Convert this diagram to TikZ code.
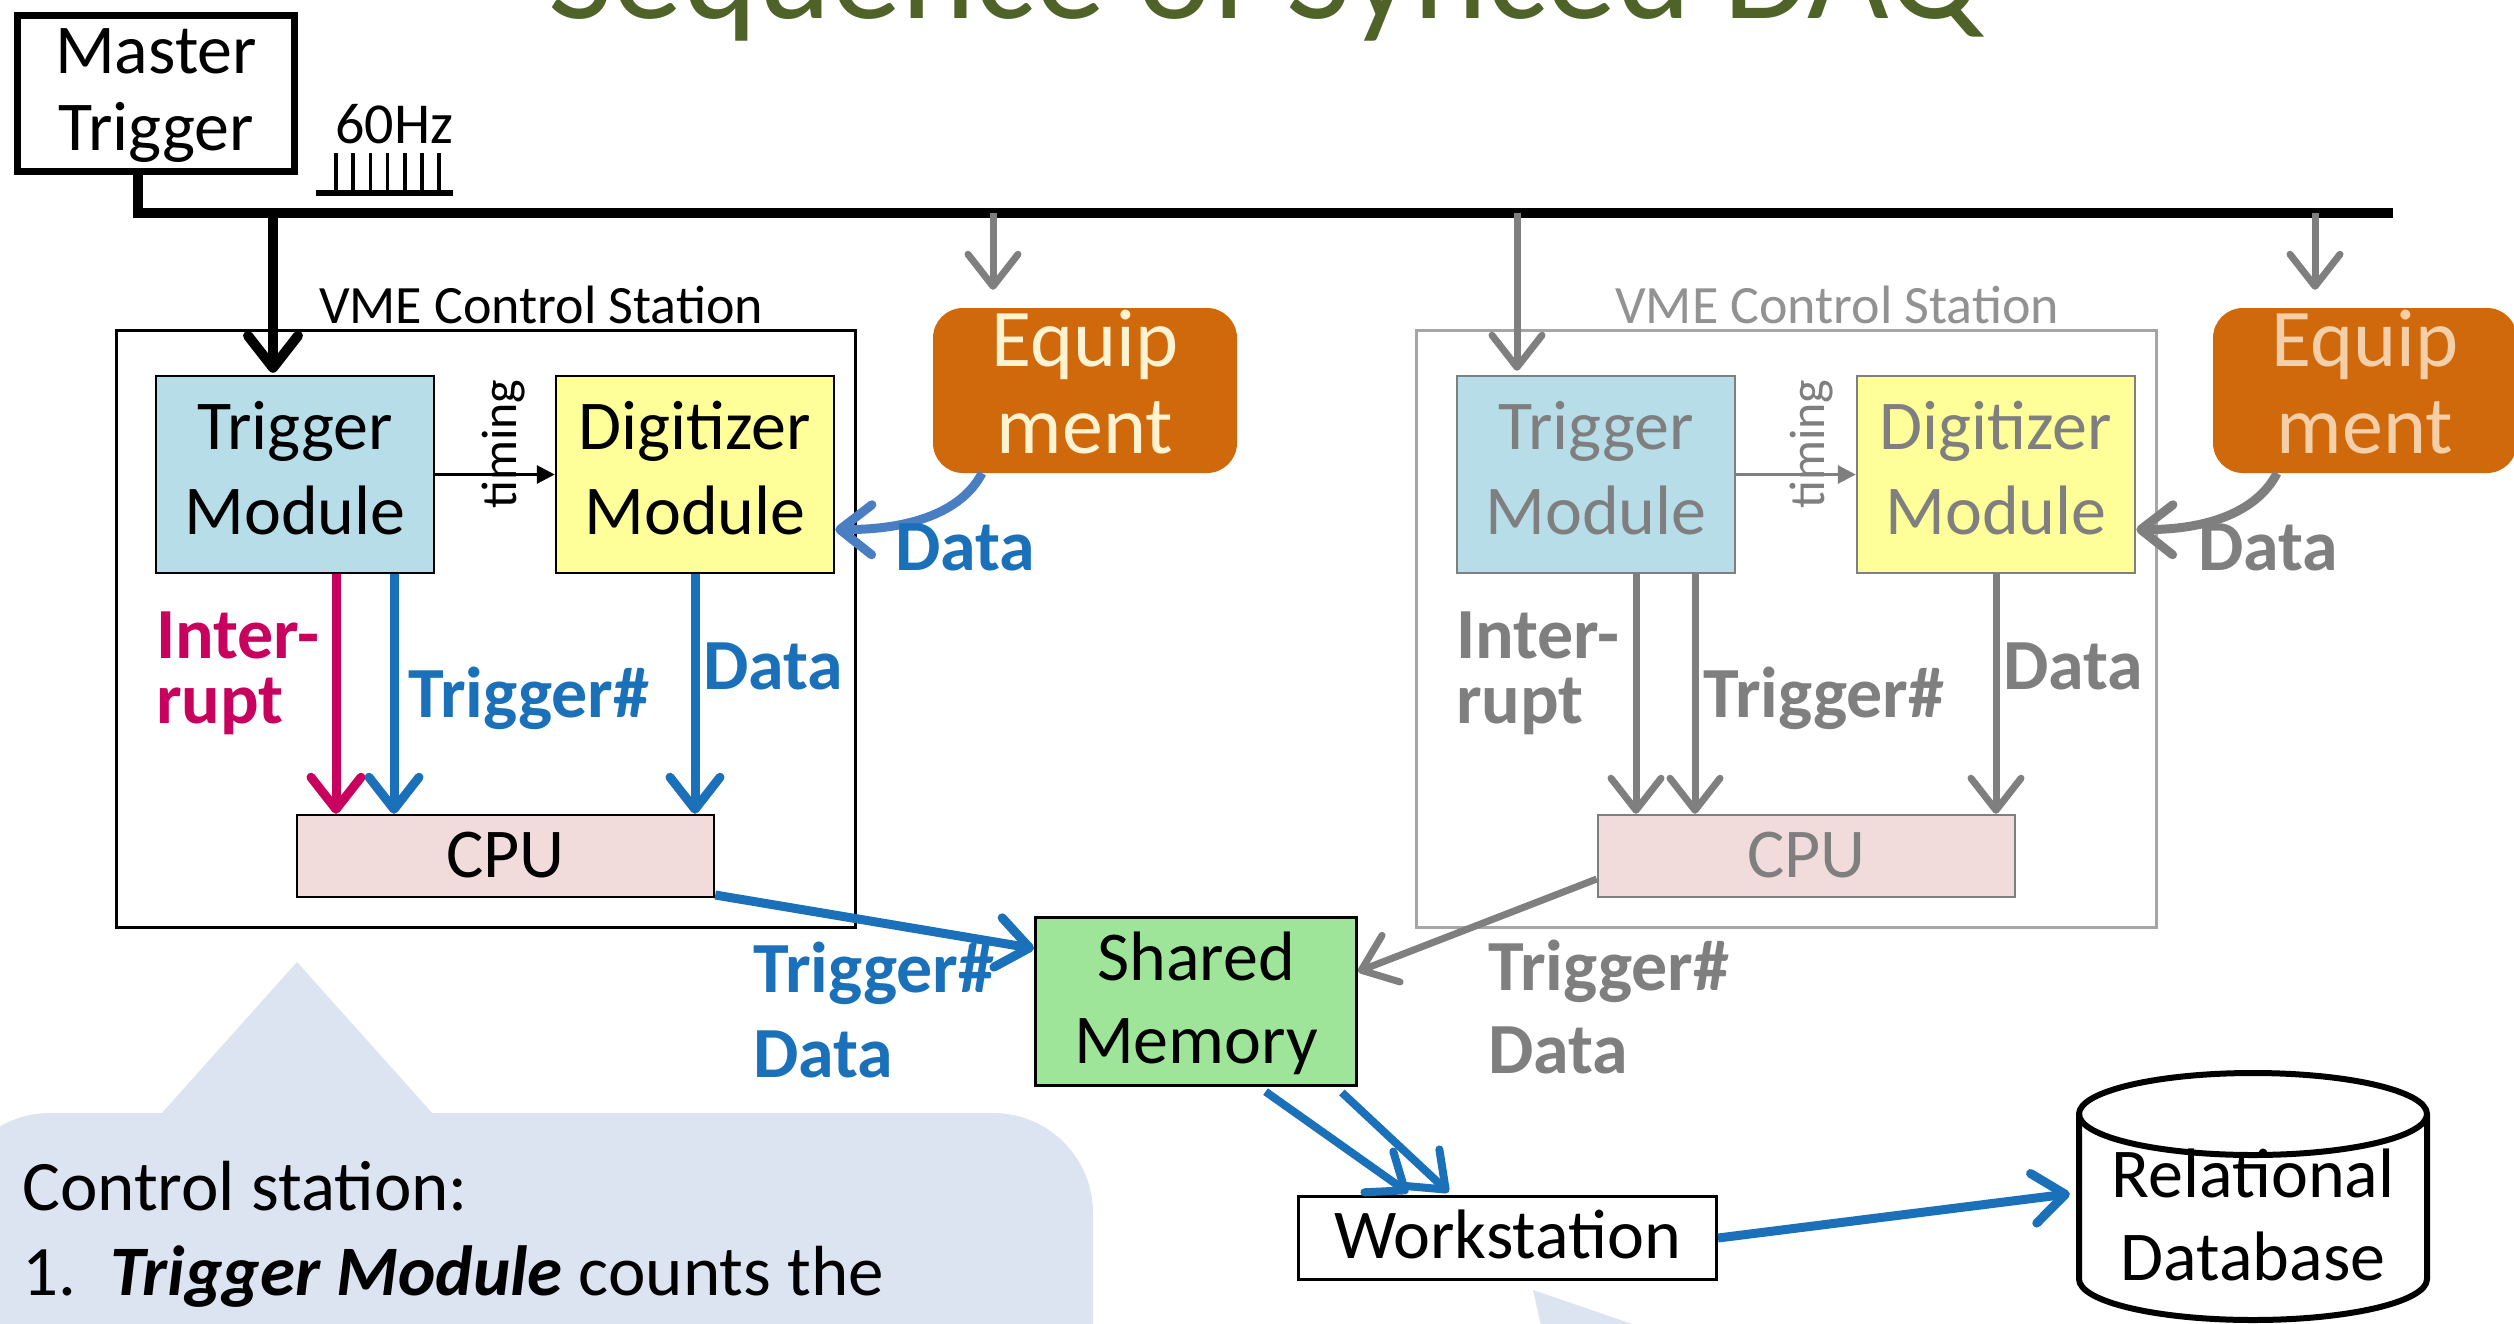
\documentclass[tikz,border=0pt]{standalone}
\usepackage{fontspec}
\setmainfont{Carlito}
\usetikzlibrary{arrows.meta,calc}

\definecolor{titlegreen}{HTML}{4F6228}
\definecolor{tmfill}{HTML}{B7DDE8}
\definecolor{dgfill}{HTML}{FFFF99}
\definecolor{cpufill}{HTML}{F2DCDB}
\definecolor{smfill}{HTML}{9EE59A}
\definecolor{eqfill}{HTML}{D0690C}
\definecolor{eqtext}{HTML}{FFF3D2}
\definecolor{eqtextdim}{HTML}{F5CFA8}
\definecolor{flowblue}{HTML}{1B70BA}
\definecolor{curveblue}{HTML}{4A7EC2}
\definecolor{irqred}{HTML}{C8005E}
\definecolor{dimgray}{HTML}{7F7F7F}
\definecolor{dimframe}{HTML}{A6A6A6}
\definecolor{callout}{HTML}{DBE4F0}

\newcommand\setfs[1]{\fontsize{#1}{#1}\selectfont}

\begin{document}
\begin{tikzpicture}[x=1pt,y=-1pt,
  lbl/.style={anchor=base, inner sep=0pt, font=\setfs{70}},
  lblw/.style={anchor=base west, inner sep=0pt, font=\setfs{70}},
  blbl/.style={anchor=base west, inner sep=0pt, font=\setfs{72}\bfseries},
  modbox/.style={draw, rectangle, line width=2.5pt, inner sep=0pt},
  eqbox/.style={rectangle, fill=eqfill, rounded corners=30pt, inner sep=0pt,
                minimum width=304pt, minimum height=165pt},
  head/.style={-{Straight Barb[length=32pt,width=50pt,round]}},
  blackflow/.style={draw=black, line width=10pt, head},
  blueflow/.style={draw=flowblue, line width=9pt, head},
  irqflow/.style={draw=irqred, line width=9pt, head},
  grayflow/.style={draw=dimgray, line width=7pt, head},
  curveflow/.style={line width=9pt, head},
  tickarrow/.style={line width=3pt, -{Triangle[length=18pt,width=18pt]}}]

\useasboundingbox (0,0) rectangle (2514,1323);
\clip (0,0) rectangle (2514,1323);
\fill[white] (0,0) rectangle (2514,1323);

% slide title (top part lies above the page)
\node[anchor=base west, inner sep=0pt, text=titlegreen, font=\setfs{141}]
  at (548,18) {Sequence of Synced DAQ};

% explanation callouts
\fill[callout, rounded corners=100pt] (-50,1113) rectangle (1093,1460);
\fill[callout] (161,1114) -- (297,962) -- (433,1114) -- cycle;
\fill[callout] (1533,1290) -- (1542,1330) -- (1650,1330) -- cycle;
\node[lblw, font=\setfs{71}] at (22,1210) {Control station:};
\node[lblw, font=\setfs{71}] at (22,1295) {1.};
\node[lblw, font=\setfs{71}] at (110,1295) {\textbf{\textit{Trigger Module}} counts the};

% master trigger and the trigger bus
\node[modbox, line width=7pt, minimum width=277pt, minimum height=156pt] (mt) at (156,93.5) {};
\node[lbl] at (156,73) {Master};
\node[lbl] at (156,150) {Trigger};
\node[lblw, font=\setfs{58}] at (335,143) {60Hz};
\draw[line width=6pt] (316,193) -- (453,193);
\foreach \i in {0,...,6} \draw[line width=3.5pt] (336+\i*17.2,153) -- (336+\i*17.2,193);

\coordinate (busL) at (138,213);
\coordinate (busR) at (2393,213);
\draw[line width=10pt, line join=miter] (mt.south -| busL) -- (busL) -- (busR);
\coordinate (tapA) at (273,213);
\coordinate (tapB) at (993,213);
\coordinate (tapC) at (1517,213);
\coordinate (tapD) at (2315,213);

% ---------- active control station ----------
\node[draw, line width=3pt, inner sep=0pt, minimum width=739pt, minimum height=597pt] (vmeL) at (486,629) {};
\node[lblw, font=\setfs{54}] at (319,323) {VME Control Station};

\node[modbox, fill=tmfill, minimum width=278pt, minimum height=197pt] (tmL) at (295,474.5) {};
\node[lbl] at (295,449) {Trigger};
\node[lbl] at (295,534) {Module};
\node[modbox, fill=dgfill, minimum width=278pt, minimum height=197pt] (dgL) at (695,474.5) {};
\node[lbl] at (695,449) {Digitizer};
\node[lbl] at (695,534) {Module};
\node[modbox, fill=cpufill, minimum width=417pt, minimum height=82pt] (cpuL) at (505.5,856) {};
\node[lbl] at (505.5,877) {CPU};

\draw[tickarrow] (tmL.east) -- (dgL.west);
\node[rotate=90, inner sep=0pt, font=\setfs{50}] at (504,444) {timing};

\coordinate (irqL) at (336,0);
\coordinate (trgL) at (394,0);
\draw[blackflow, shorten >=2pt] (tapA) -- (tapA |- tmL.north);
\draw[irqflow] (tmL.south -| irqL) -- (cpuL.north -| irqL);
\draw[blueflow] (tmL.south -| trgL) -- (cpuL.north -| trgL);
\draw[blueflow] (dgL.south) -- (dgL.south |- cpuL.north);
\node[blbl, text=irqred] at (156,658) {Inter-};
\node[blbl, text=irqred] at (156,723) {rupt};
\node[blbl, text=flowblue] at (408,717) {Trigger\#};
\node[blbl, text=flowblue] at (703,689) {Data};

\node[eqbox] (eqL) at (1085,390.5) {};
\node[lbl, font=\setfs{82}, text=eqtext] at (1085,366) {Equip};
\node[lbl, font=\setfs{82}, text=eqtext] at (1085,453) {ment};
\draw[grayflow, shorten >=18pt] (tapB) -- (tapB |- eqL.north);
\draw[curveflow, draw=curveblue] ([xshift=-103pt]eqL.south)
  .. controls (962,512) and (910,530) .. ([yshift=-55pt]dgL.east);
\node[blbl, text=flowblue] at (895,570) {Data};

% ---------- second (greyed) control station ----------
\node[draw=dimframe, line width=3pt, inner sep=0pt, minimum width=740pt, minimum height=597pt] (vmeR) at (1786.5,629) {};
\node[lblw, font=\setfs{54}, text=dimgray!85] at (1615,323) {VME Control Station};

\node[modbox, draw=dimgray, fill=tmfill, minimum width=278pt, minimum height=197pt] (tmR) at (1596,474.5) {};
\node[lbl, text=dimgray] at (1596,449) {Trigger};
\node[lbl, text=dimgray] at (1596,534) {Module};
\node[modbox, draw=dimgray, fill=dgfill, minimum width=278pt, minimum height=197pt] (dgR) at (1996,474.5) {};
\node[lbl, text=dimgray] at (1996,449) {Digitizer};
\node[lbl, text=dimgray] at (1996,534) {Module};
\node[modbox, draw=dimgray, fill=cpufill, minimum width=417pt, minimum height=82pt] (cpuR) at (1806.5,856) {};
\node[lbl, text=dimgray] at (1806.5,877) {CPU};

\draw[tickarrow, draw=dimgray, fill=dimgray] (tmR.east) -- (dgR.west);
\node[rotate=90, inner sep=0pt, font=\setfs{50}, text=dimgray] at (1811,444) {timing};

\coordinate (irqR) at (1636,0);
\coordinate (trgR) at (1695,0);
\draw[grayflow, shorten >=4pt] (tapC) -- (tapC |- tmR.north);
\draw[grayflow] (tmR.south -| irqR) -- (cpuR.north -| irqR);
\draw[grayflow] (tmR.south -| trgR) -- (cpuR.north -| trgR);
\draw[grayflow] (dgR.south) -- (dgR.south |- cpuR.north);
\node[blbl, text=dimgray] at (1456,658) {Inter-};
\node[blbl, text=dimgray] at (1456,723) {rupt};
\node[blbl, text=dimgray] at (1703,717) {Trigger\#};
\node[blbl, text=dimgray] at (2003,689) {Data};

\node[eqbox] (eqR) at (2365,390.5) {};
\node[lbl, font=\setfs{82}, text=eqtextdim] at (2365,366) {Equip};
\node[lbl, font=\setfs{82}, text=eqtextdim] at (2365,453) {ment};
\draw[grayflow, shorten >=18pt] (tapD) -- (tapD |- eqR.north);
\draw[curveflow, draw=dimgray] ([xshift=-88pt]eqR.south)
  .. controls (2257,512) and (2207,530) .. ([yshift=-55pt]dgR.east);
\node[blbl, text=dimgray] at (2198,570) {Data};

% ---------- shared memory, workstation, database ----------
\node[draw, line width=3pt, fill=smfill, inner sep=0pt, minimum width=321pt, minimum height=168pt] (smem) at (1196,1001.5) {};
\node[lbl] at (1196,980) {Shared};
\node[lbl] at (1196,1063) {Memory};

\draw[blueflow] ([yshift=-39pt]cpuL.east) -- ([yshift=53pt]smem.west);
\node[blbl, text=flowblue] at (753,992) {Trigger\#};
\node[blbl, text=flowblue] at (753,1077) {Data};

\draw[grayflow] ([yshift=-23pt]cpuR.west) -- ([yshift=30pt]smem.east);
\node[blbl, text=dimgray] at (1488,990) {Trigger\#};
\node[blbl, text=dimgray] at (1488,1073) {Data};

\node[draw, line width=3pt, fill=white, inner sep=0pt, minimum width=418pt, minimum height=83pt] (ws) at (1507.5,1238) {};
\node[lbl] at (1507.5,1258) {Workstation};

\draw[blueflow, line width=8pt, shorten <=8pt, shorten >=4pt] ([xshift=63pt]smem.south) -- ([xshift=-96pt]ws.north);
\draw[blueflow, line width=8pt, shorten <=8pt, shorten >=4pt] ([xshift=140pt]smem.south) -- ([xshift=-56pt]ws.north);

\node[inner sep=0pt, minimum width=354pt, minimum height=250pt] (db) at (2253,1196.5) {};
\filldraw[line width=6pt, fill=white] (2079,1114) -- (2079,1279)
  arc[start angle=180, end angle=360, x radius=174pt, y radius=41pt] -- (2427,1114)
  arc[start angle=0, end angle=180, x radius=174pt, y radius=41pt] -- cycle;
\draw[line width=6pt] (2079,1114) arc[start angle=180, end angle=360, x radius=174pt, y radius=41pt];
\node[lbl] at (2253,1197) {Relational};
\node[lbl] at (2253,1280) {Database};

\draw[blueflow, shorten >=6pt] (ws.east) -- ([yshift=3.5pt]db.west);

\end{tikzpicture}
\end{document}
